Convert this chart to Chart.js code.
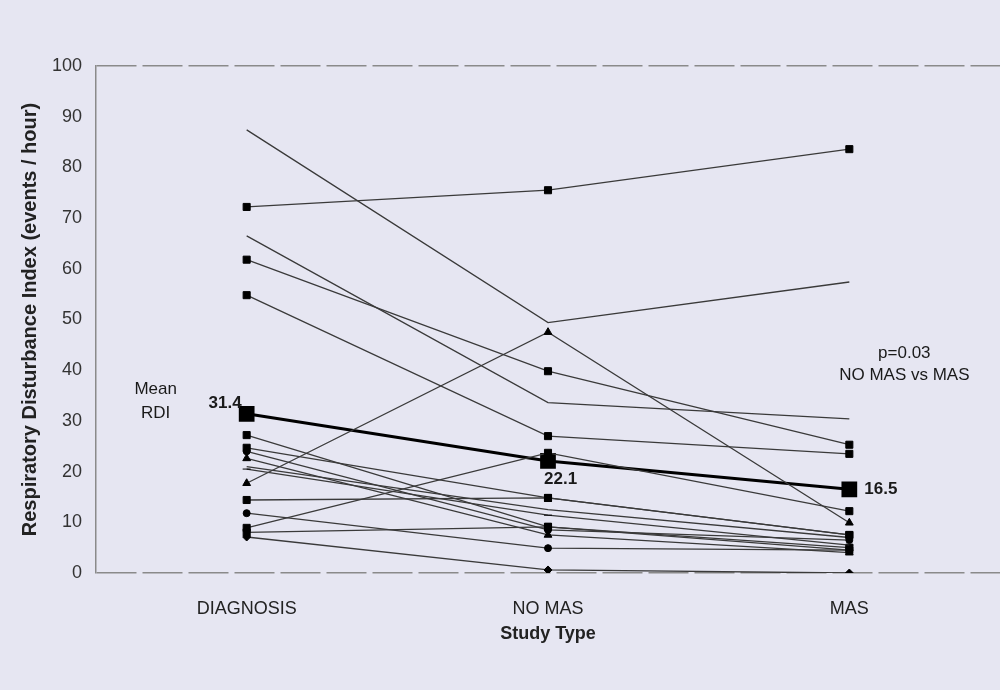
<!DOCTYPE html>
<html>
<head>
<meta charset="utf-8">
<script src="https://cdn.jsdelivr.net/npm/chart.js@4"></script>
<style>
  html, body { margin: 0; padding: 0; background: #fff; }
  #wrap { width: 1000px; height: 690px; background: #e6e6f2; }
</style>
</head>
<body>
<div id="wrap"><canvas id="rdiChart" width="1000" height="690"></canvas></div>
<script>
// Study types on the x axis
var studyTypes = ["DIAGNOSIS", "NO MAS", "MAS"];

// RDI per patient (same index = same patient)
var diagnosisRdi = [72.2, 87.4, 66.5, 61.8, 54.8, 17.7, 27.2, 24.7, 22.6, 20.5, 14.4, 11.8, 8.9, 7.1, 8.0, 24.0, 21.0];
var noMasRdi     = [75.5, 49.4, 33.6, 39.8, 27.0, 47.5, 9.1, 14.8, 7.5, 11.4, 14.8, 4.9, 23.7, 0.6, 9.1, 8.5, 12.5];
var masRdi       = [83.6, 57.4, 30.4, 25.3, 23.5, 9.9, 4.5, 7.5, 4.0, 5.5, 7.5, 4.5, 12.2, 0.0, 5.0, 6.5, 7.0];
var markerStyles = ["rect", false, false, "rect", "rect", "triangle", "rect", "rect", "triangle", "line", "rect", "circle", "rect", "rectRot", "rect", "circle", false];

// Mean RDI
var meanRdi = [31.4, 22.1, 16.5];

var markerSize = { rect: 5, triangle: 4.5, circle: 3.5, line: 4, rectRot: 4 };

var datasets = [];
for (var i = 0; i < diagnosisRdi.length; i++) {
  var style = markerStyles[i];
  datasets.push({
    label: "Patient " + (i + 1),
    data: [diagnosisRdi[i], noMasRdi[i], masRdi[i]],
    borderColor: "#3a3a3a",
    borderWidth: 1.3,
    pointStyle: style,
    pointRadius: style ? markerSize[style] : 0,
    pointBackgroundColor: "#000",
    pointBorderColor: "#000",
    pointBorderWidth: 1,
    fill: false,
    tension: 0,
  });
}
datasets.push({
  label: "Mean RDI",
  data: meanRdi,
  borderColor: "#000",
  borderWidth: 3,
  pointStyle: "rect",
  pointRadius: 9,
  pointBackgroundColor: "#000",
  pointBorderColor: "#000",
  fill: false,
  tension: 0,
});

var FONT = "'Liberation Sans', Arial, sans-serif";

// text notes drawn on the plot
var noteLabels = {
  id: "noteLabels",
  afterDatasetsDraw: function (chart) {
    var ctx = chart.ctx;
    var x = chart.scales.x;
    var y = chart.scales.y;
    ctx.save();
    ctx.fillStyle = "#1a1a1a";
    ctx.textBaseline = "middle";

    ctx.font = "17px " + FONT;
    ctx.textAlign = "center";
    ctx.fillText("Mean", x.getPixelForValue(0) - 91, y.getPixelForValue(meanRdi[0]) - 24);
    ctx.fillText("RDI", x.getPixelForValue(0) - 91, y.getPixelForValue(meanRdi[0]));
    ctx.fillText("p=0.03", x.getPixelForValue(2) + 55, y.getPixelForValue(43.4));
    ctx.fillText("NO MAS vs MAS", x.getPixelForValue(2) + 55, y.getPixelForValue(39.0));

    ctx.font = "bold 17px " + FONT;
    ctx.textAlign = "right";
    ctx.fillText("31.4", x.getPixelForValue(0) - 5, y.getPixelForValue(meanRdi[0]) - 10);
    ctx.textAlign = "left";
    ctx.fillText("22.1", x.getPixelForValue(1) - 4, y.getPixelForValue(meanRdi[1]) + 18);
    ctx.fillText("16.5", x.getPixelForValue(2) + 15, y.getPixelForValue(meanRdi[2]));
    ctx.restore();
  },
};

var rdiCtx = document.getElementById("rdiChart").getContext("2d");
var rdiChart = new Chart(rdiCtx, {
  type: "line",
  data: {
    labels: studyTypes,
    datasets: datasets,
  },
  options: {
    responsive: false,
    animation: false,
    layout: { autoPadding: false, padding: { top: 66, right: 0, left: 0, bottom: 0 } },
    plugins: {
      legend: { display: false },
      tooltip: { enabled: false },
    },
    scales: {
      x: {
        offset: true,
        grid: { display: false },
        border: { display: false },
        ticks: {
          color: "#222",
          font: { family: FONT, size: 18 },
          padding: 17,
          maxRotation: 0,
        },
        title: {
          display: true,
          text: "Study Type",
          color: "#222",
          font: { family: FONT, size: 18, weight: "bold" },
          padding: { top: 0, bottom: 45 },
        },
        afterFit: function (scale) {
          scale.height = 117;
        },
      },
      y: {
        min: 0,
        max: 100,
        ticks: {
          stepSize: 10,
          color: "#333",
          font: { family: FONT, size: 18 },
          padding: 14,
        },
        grid: {
          drawTicks: false,
          color: function (c) {
            return c.tick && (c.tick.value === 0 || c.tick.value === 100) ? "#8a8a8a" : "rgba(0,0,0,0)";
          },
          lineWidth: 1.5,
        },
        border: { color: "#8a8a8a", width: 1.5, dash: [40, 6] },
        title: {
          display: true,
          text: "Respiratory Disturbance Index (events / hour)",
          color: "#222",
          font: { family: FONT, size: 20, weight: "bold" },
          padding: { top: 18, bottom: 0 },
        },
        afterFit: function (scale) {
          scale.width = 96;
        },
      },
    },
  },
  plugins: [noteLabels],
});
</script>
</body>
</html>
